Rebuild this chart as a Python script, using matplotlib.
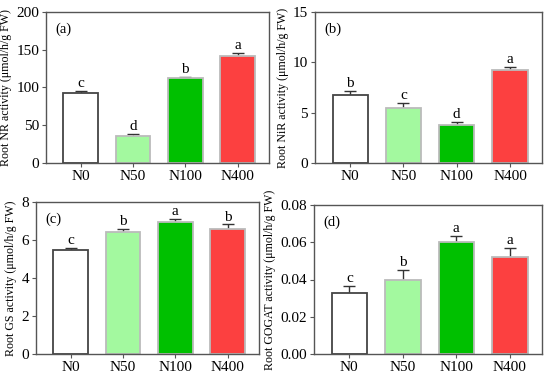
import matplotlib
matplotlib.use('Agg')
import matplotlib.pyplot as plt

plt.rcParams['font.family'] = ['Liberation Serif', 'DejaVu Serif']
plt.rcParams['font.size'] = 10

groups = ['N0', 'N50', 'N100', 'N400']
colors = ['#ffffff', '#a3f99f', '#00c000', '#fc4040']
edges = ['#444444', '#bbbbbb', '#bbbbbb', '#bbbbbb']

nr = [93, 36, 112, 142]
nr_err = [3, 3, 2.5, 3.5]
nr_sig = ['c', 'd', 'b', 'a']

nir = [6.8, 5.5, 3.75, 9.2]
nir_err = [0.35, 0.45, 0.35, 0.35]
nir_sig = ['b', 'c', 'd', 'a']

gs = [5.45, 6.4, 6.95, 6.6]
gs_err = [0.15, 0.2, 0.17, 0.22]
gs_sig = ['c', 'b', 'a', 'b']

gogat = [0.033, 0.040, 0.060, 0.052]
gogat_err = [0.0035, 0.005, 0.0035, 0.005]
gogat_sig = ['c', 'b', 'a', 'a']

panels = [
    (nr, nr_err, nr_sig, '(a)', 'Root NR activity (μmol/h/g FW)', 200, [0, 50, 100, 150, 200], '%d',
     [46, 12, 269, 163]),
    (nir, nir_err, nir_sig, '(b)', 'Root NiR activity (μmol/h/g FW)', 15, [0, 5, 10, 15], '%d',
     [315, 12, 542, 163]),
    (gs, gs_err, gs_sig, '(c)', 'Root GS activity (μmol/h/g FW)', 8, [0, 2, 4, 6, 8], '%d',
     [36, 202, 259, 354]),
    (gogat, gogat_err, gogat_sig, '(d)', 'Root GOGAT activity (μmol/h/g FW)', 0.08,
     [0, 0.02, 0.04, 0.06, 0.08], '%.2f', [314, 205, 542, 354]),
]

W, H = 550, 378
fig = plt.figure(figsize=(W / 100, H / 100), dpi=100)

for vals, errs, sig, lab, ylab, ymax, yticks, fmt, box in panels:
    x0, y0, x1, y1 = box
    ax = fig.add_axes([x0 / W, 1 - y1 / H, (x1 - x0) / W, (y1 - y0) / H])
    xs = range(len(groups))
    ax.bar(xs, vals, width=0.66, color=colors, edgecolor=edges, linewidth=1.3, zorder=2)
    ax.errorbar(xs, vals, yerr=errs, fmt='none', ecolor='#333333',
                elinewidth=1, capsize=4, capthick=1, zorder=1)
    for x, v, e, s in zip(xs, vals, errs, sig):
        ax.text(x, v + e + ymax * 0.005, s, ha='center', va='bottom', fontsize=11)
    ax.set_xlim(-0.66, 3.6)
    ax.set_ylim(0, ymax)
    ax.set_yticks(yticks)
    ax.set_yticklabels([fmt % t for t in yticks])
    ax.set_xticks(list(xs))
    ax.set_xticklabels(groups)
    ax.set_ylabel(ylab, fontsize=8.6, labelpad=3)
    ax.text(0.04, 0.93, lab, transform=ax.transAxes, ha='left', va='top', fontsize=10.5)
    for sp in ax.spines.values():
        sp.set_color('#555555')
        sp.set_linewidth(1)
    ax.tick_params(direction='out', length=3, color='#555555', labelsize=11, pad=2)

plt.savefig('out.png', dpi=100)
plt.close(fig)
